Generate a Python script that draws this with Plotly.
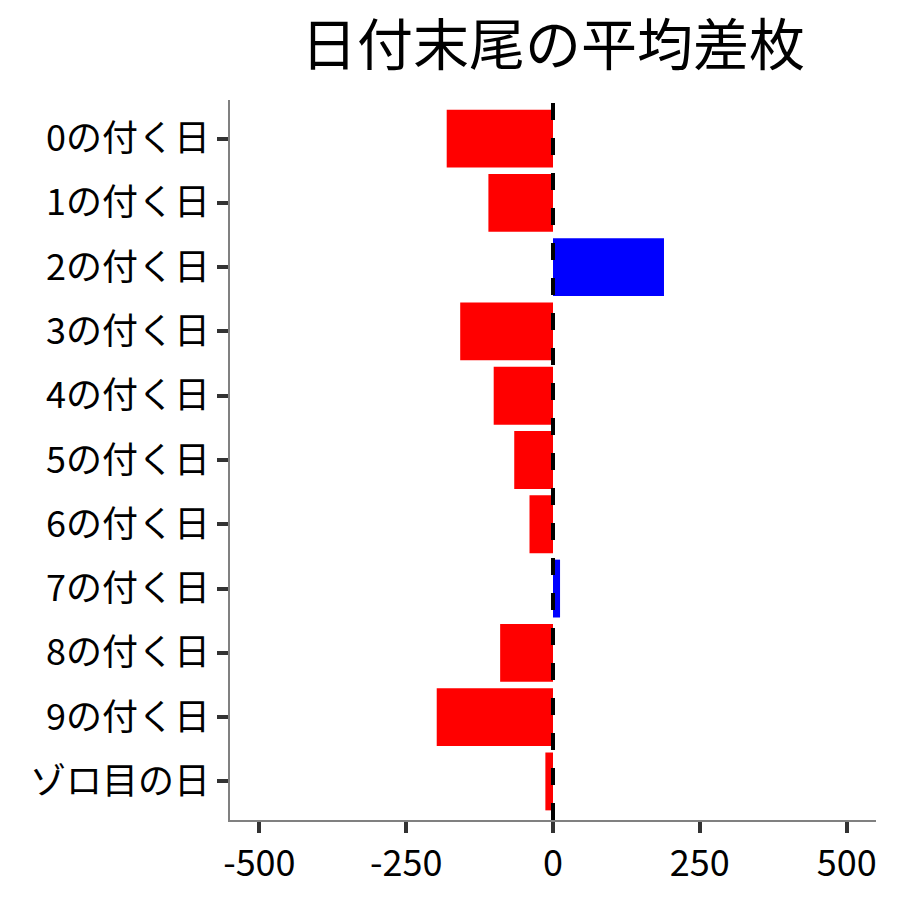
import plotly.graph_objects as go

categories = ["0の付く日", "1の付く日", "2の付く日", "3の付く日", "4の付く日",
              "5の付く日", "6の付く日", "7の付く日", "8の付く日", "9の付く日", "ゾロ目の日"]
values = [-181, -110, 189, -158, -101, -66, -40, 12, -90, -198, -13]
tick_vals = [-500, -250, 0, 250, 500]
title_text = "日付末尾の平均差枚"

colors = ["#0000FF" if v > 0 else "#FF0000" for v in values]
FONT = "Noto Sans CJK JP"

fig = go.Figure()
fig.add_trace(go.Bar(
    x=values, y=categories, orientation="h",
    marker=dict(color=colors, line=dict(width=0)),
    width=0.9, showlegend=False,
))

fig.add_shape(type="line", xref="x", yref="paper", x0=0, x1=0, y0=0, y1=1,
              line=dict(color="black", width=4, dash="17px,18px"), layer="above")

fig.update_layout(
    width=900, height=900,
    margin=dict(l=222, r=32, t=92, b=88),
    plot_bgcolor="white", paper_bgcolor="white",
    font=dict(family=FONT, color="black"),
    title=dict(text=title_text, x=0.5, xref="paper", xanchor="center",
               y=1 - 37 / 900, yanchor="middle",
               font=dict(family=FONT, size=56, color="black")),
    xaxis=dict(range=[-550, 550], tickvals=tick_vals,
               ticktext=[str(t) for t in tick_vals],
               showgrid=False, zeroline=False,
               showline=True, linecolor="#808080", linewidth=1.5,
               ticks="outside", ticklen=11, tickwidth=4, tickcolor="#333333",
               tickfont=dict(family=FONT, size=36, color="black")),
    yaxis=dict(categoryorder="array", categoryarray=categories,
               range=[len(categories) - 0.4, -0.6],
               showgrid=False, zeroline=False,
               showline=True, linecolor="#808080", linewidth=1.5,
               ticks="outside", ticklen=11, tickwidth=4, tickcolor="#333333",
               tickfont=dict(family=FONT, size=36, color="black")),
)

fig.write_html("out.html")
